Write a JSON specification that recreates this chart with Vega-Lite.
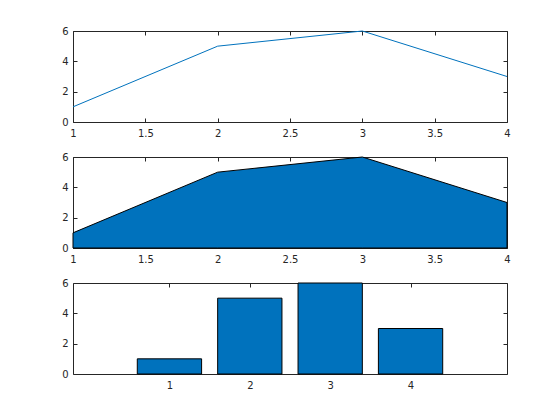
{
  "$schema": "https://vega.github.io/schema/vega-lite/v6.json",
  "autosize": {"type": "pad"},
  "padding": {"left": 61, "top": 25, "right": 0, "bottom": 0},
  "background": "white",
  "bounds": "flush",
  "spacing": 35,
  "data": {"values": [
    {"x": 1, "y": 1},
    {"x": 2, "y": 5},
    {"x": 3, "y": 6},
    {"x": 4, "y": 3}
  ]},
  "config": {
    "font": "DejaVu Sans",
    "view": {"stroke": "#262626", "strokeWidth": 1},
    "axis": {
      "grid": false,
      "domain": false,
      "tickColor": "#262626",
      "tickSize": -4,
      "labelColor": "#262626",
      "labelFontSize": 10,
      "labelFont": "DejaVu Sans",
      "labelFlush": false,
      "labelOverlap": false,
      "labelBound": false,
      "format": "~g",
      "title": null
    },
    "axisX": {"labelPadding": 10},
    "axisY": {"labelPadding": 9}
  },
  "vconcat": [
    {
      "width": 434,
      "height": 91,
      "layer": [
        {
          "mark": {"type": "line", "color": "#0072BD", "strokeWidth": 1},
          "encoding": {
            "x": {"field": "x", "type": "quantitative", "scale": {"domain": [1, 4], "nice": false}, "axis": {"values": [1, 1.5, 2, 2.5, 3, 3.5, 4], "orient": "bottom"}},
            "y": {"field": "y", "type": "quantitative", "scale": {"domain": [0, 6], "nice": false}, "axis": {"values": [0, 2, 4, 6], "orient": "left"}}
          }
        },
        {
          "mark": {"type": "point", "opacity": 0},
          "encoding": {
            "x": {"field": "x", "type": "quantitative", "axis": {"values": [1, 1.5, 2, 2.5, 3, 3.5, 4], "orient": "top", "labels": false}},
            "y": {"field": "y", "type": "quantitative", "axis": {"values": [0, 2, 4, 6], "orient": "right", "labels": false}}
          }
        }
      ],
      "resolve": {"axis": {"x": "independent", "y": "independent"}}
    },
    {
      "width": 434,
      "height": 91,
      "layer": [
        {
          "mark": {"type": "area", "color": "#0072BD", "stroke": "black", "strokeWidth": 1, "opacity": 1},
          "encoding": {
            "x": {"field": "x", "type": "quantitative", "scale": {"domain": [1, 4], "nice": false}, "axis": {"values": [1, 1.5, 2, 2.5, 3, 3.5, 4], "orient": "bottom"}},
            "y": {"field": "y", "type": "quantitative", "scale": {"domain": [0, 6], "nice": false}, "axis": {"values": [0, 2, 4, 6], "orient": "left"}}
          }
        },
        {
          "mark": {"type": "point", "opacity": 0},
          "encoding": {
            "x": {"field": "x", "type": "quantitative", "axis": {"values": [1, 1.5, 2, 2.5, 3, 3.5, 4], "orient": "top", "labels": false}},
            "y": {"field": "y", "type": "quantitative", "axis": {"values": [0, 2, 4, 6], "orient": "right", "labels": false}}
          }
        }
      ],
      "resolve": {"axis": {"x": "independent", "y": "independent"}}
    },
    {
      "width": 434,
      "height": 91,
      "layer": [
        {
          "mark": {"type": "bar", "color": "#0072BD", "stroke": "black", "strokeWidth": 1, "width": 64.3},
          "encoding": {
            "x": {"field": "x", "type": "quantitative", "scale": {"domain": [-0.2, 5.2], "nice": false, "padding": 0}, "axis": {"values": [1, 2, 3, 4], "orient": "bottom"}},
            "y": {"field": "y", "type": "quantitative", "scale": {"domain": [0, 6], "nice": false}, "axis": {"values": [0, 2, 4, 6], "orient": "left"}}
          }
        },
        {
          "mark": {"type": "point", "opacity": 0},
          "encoding": {
            "x": {"field": "x", "type": "quantitative", "axis": {"values": [1, 2, 3, 4], "orient": "top", "labels": false}},
            "y": {"field": "y", "type": "quantitative", "axis": {"values": [0, 2, 4, 6], "orient": "right", "labels": false}}
          }
        }
      ],
      "resolve": {"axis": {"x": "independent", "y": "independent"}}
    }
  ]
}
